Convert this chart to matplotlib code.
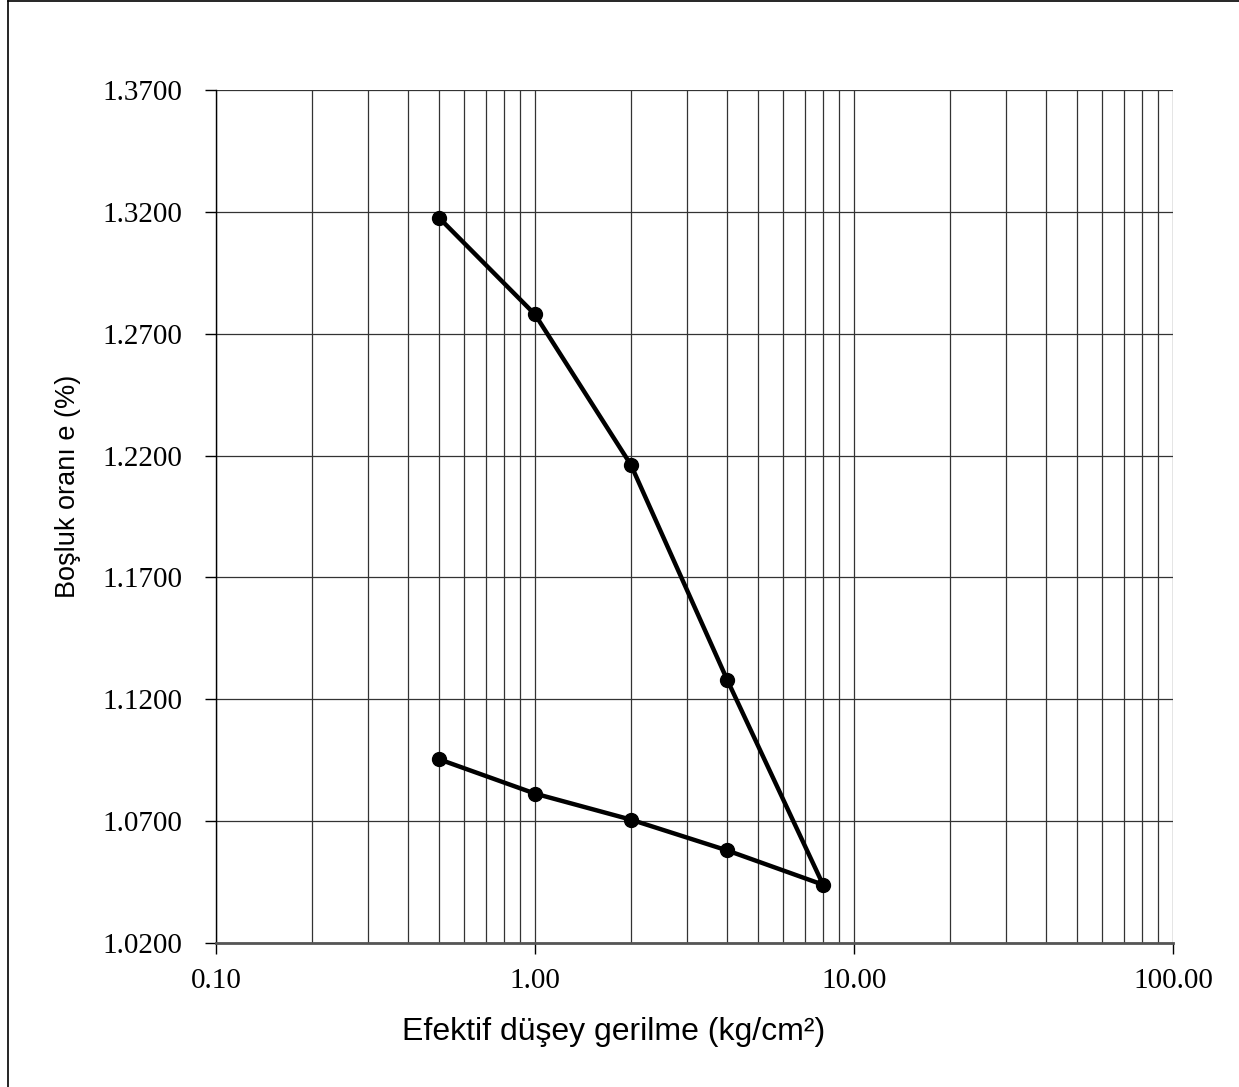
import numpy as np
import matplotlib
matplotlib.use("Agg")
import matplotlib.pyplot as plt
from matplotlib.ticker import FixedLocator, NullFormatter
from matplotlib.lines import Line2D

# yukleme ve bosaltma (loading / unloading)
stress = [0.5, 1.0, 2.0, 4.0, 8.0, 4.0, 2.0, 1.0, 0.5]
void_ratio = [1.3176, 1.2779, 1.2161, 1.1281, 1.0439, 1.0580, 1.0706, 1.0813, 1.0954]

y_ticks = [1.02, 1.07, 1.12, 1.17, 1.22, 1.27, 1.32, 1.37]
x_ticks = [0.1, 1, 10, 100]
x_ticklabels = ["0.10", "1.00", "10.00", "100.00"]

fig = plt.figure(figsize=(12.39, 10.87), dpi=100)
ax = fig.add_axes([216/1239, 1-943/1087, (1173-216)/1239, (943-90)/1087])

ax.set_xscale("log")
ax.set_xlim(0.1, 100)
ax.set_ylim(1.02, 1.37)

# grid lines
minor = [m * d for d in (0.1, 1, 10) for m in range(2, 10)]
ax.xaxis.set_minor_locator(FixedLocator(minor))
ax.xaxis.set_minor_formatter(NullFormatter())
ax.set_xticks(x_ticks)
ax.set_xticklabels(x_ticklabels)
ax.set_yticks(y_ticks)
ax.set_yticklabels(["%.4f" % v for v in y_ticks])
ax.grid(True, which="both", axis="x", color="#333333", linewidth=0.9)
ax.grid(True, which="major", axis="y", color="#333333", linewidth=0.9)
ax.set_axisbelow(True)

ax.plot(stress, void_ratio, color="black", linewidth=3.2, marker="o",
        markersize=10, markerfacecolor="black", markeredgecolor="black", zorder=3)

for s in ["top", "right"]:
    ax.spines[s].set_visible(False)
ax.spines["left"].set_color("black")
ax.spines["left"].set_linewidth(1.0)
ax.spines["bottom"].set_color("#555555")
ax.spines["bottom"].set_linewidth(2.0)

ax.tick_params(axis="both", which="major", direction="out", length=8, width=1,
               color="black", labelsize=21)
ax.tick_params(axis="y", pad=16)
ax.tick_params(axis="x", pad=10)
ax.tick_params(axis="x", which="minor", length=0)
for lab in ax.get_xticklabels() + ax.get_yticklabels():
    lab.set_fontfamily("Liberation Serif")

fig.text(614/1239, 1 - 1032/1087, "Efektif düşey gerilme (kg/cm²)", fontsize=23,
         family="Liberation Sans", ha="center", va="center")
fig.text(68/1239, 1 - 486/1087, "Boşluk oranı e (%)", fontsize=19.5,
         family="Liberation Sans", ha="center", va="center", rotation=90)

# cerceve
fig.add_artist(Line2D([8/1239, 8/1239], [0, 1 - 1/1087], transform=fig.transFigure, color="black", linewidth=1.2))
fig.add_artist(Line2D([8/1239, 1], [1 - 1/1087, 1 - 1/1087], transform=fig.transFigure, color="black", linewidth=1.2))

plt.savefig("out.png", dpi=100)
